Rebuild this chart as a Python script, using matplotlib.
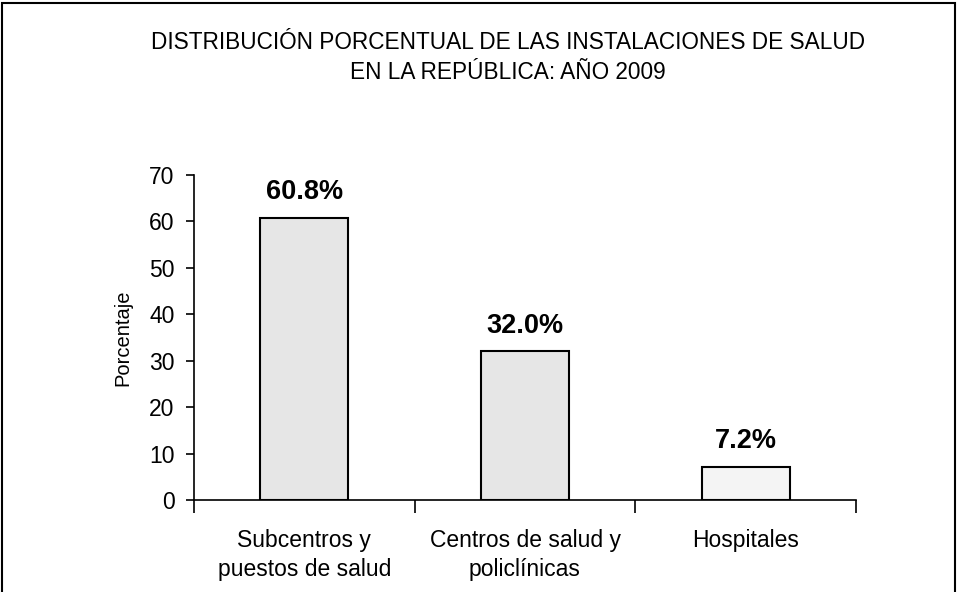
import matplotlib
matplotlib.use("Agg")
import matplotlib.pyplot as plt
from matplotlib.patches import Rectangle

categories = ["Subcentros y\npuestos de salud", "Centros de salud y\npoliclínicas", "Hospitales"]
values = [60.8, 32.0, 7.2]
value_labels = ["60.8%", "32.0%", "7.2%"]
colors = ["#e6e6e6", "#e6e6e6", "#f4f4f4"]
yticks = [0, 10, 20, 30, 40, 50, 60, 70]
title_lines = ["DISTRIBUCIÓN PORCENTUAL DE LAS INSTALACIONES DE SALUD", "EN LA REPÚBLICA: AÑO 2009"]

plt.rcParams['font.family'] = ['Liberation Sans', 'DejaVu Sans']

fig = plt.figure(figsize=(9.57, 5.92), dpi=100)
ax = fig.add_axes([194/957, 92/592, 662/957, 325/592])

x = list(range(len(categories)))
ax.bar(x, values, width=0.40, color=colors, edgecolor="black", linewidth=1.5, zorder=2)
for xi, v, lab in zip(x, values, value_labels):
    ax.annotate(lab, xy=(xi, v), xytext=(0, 13.5), textcoords="offset points",
                ha="center", va="baseline", fontsize=19.5, fontweight="bold")

ax.set_xlim(-0.5, 2.5)
ax.set_ylim(0, 70)
ax.set_yticks(yticks)
ax.tick_params(axis="y", labelsize=16.5, length=6, width=1.2, direction="out", pad=8)
ax.set_xticks([-0.5, 0.5, 1.5, 2.5])
ax.set_xticklabels([])
ax.tick_params(axis="x", length=9.5, width=1.2, direction="out")
for xi, cat in zip(x, categories):
    for k, line in enumerate(cat.split("\n")):
        ax.annotate(line, xy=(xi, 0), xycoords=("data", "axes fraction"),
                    xytext=(0, -34 - 21 * k), textcoords="offset points",
                    ha="center", va="baseline", fontsize=16.5, annotation_clip=False)
for s in ["top", "right"]:
    ax.spines[s].set_visible(False)
ax.spines["left"].set_linewidth(1.2)
ax.spines["bottom"].set_linewidth(1.2)
ax.set_ylabel("Porcentaje", fontsize=14.5, labelpad=12)

fig.text(508/957, 1 - 49/592, title_lines[0], ha="center", va="baseline", fontsize=16.3)
fig.text(508/957, 1 - 79/592, title_lines[1], ha="center", va="baseline", fontsize=16.3)

fig.patches.append(Rectangle((2/957, -0.1), 953/957, 1.1 - 2.5/592, transform=fig.transFigure,
                             fill=False, edgecolor="black", linewidth=1.5))

fig.savefig("out.png", dpi=100)
